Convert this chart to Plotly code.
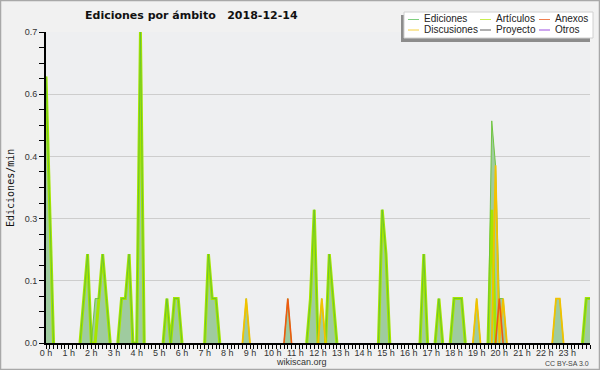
import plotly.graph_objects as go

# ---- data (edits per minute, 10-minute bins, 2018-12-14) ----
hours = list(range(24))
hour_labels = [f"{h} h" for h in hours]
bin_minutes = 10
n_bins = 145
times = [i * bin_minutes / 60 for i in range(n_bins)]

ediciones = [
    0.6, 0.3, 0, 0, 0, 0,        0, 0, 0, 0, 0.1, 0.2,
    0, 0.1, 0.1, 0.2, 0.1, 0,    0, 0, 0.1, 0.1, 0.2, 0,
    0, 0.7, 0, 0, 0, 0,          0, 0, 0.1, 0, 0.1, 0.1,
    0, 0, 0, 0, 0, 0,            0, 0.2, 0.1, 0.1, 0, 0,
    0, 0, 0, 0, 0, 0.1,          0, 0, 0, 0, 0, 0,
    0, 0, 0, 0, 0.1, 0,          0, 0, 0, 0, 0.1, 0.3,
    0, 0.1, 0, 0.2, 0.1, 0,      0, 0, 0, 0, 0, 0,
    0, 0, 0, 0, 0, 0.3,          0.2, 0, 0, 0, 0, 0,
    0, 0, 0, 0, 0.2, 0,          0, 0, 0.1, 0, 0, 0,
    0.1, 0.1, 0.1, 0, 0, 0,      0.1, 0, 0, 0, 0.5, 0.4,
    0.1, 0.1, 0, 0, 0, 0,        0, 0, 0, 0, 0, 0,
    0, 0, 0, 0.1, 0.1, 0,        0, 0, 0, 0, 0, 0.1,
    0.1,
]
articulos = [
    0.6, 0.3, 0, 0, 0, 0,        0, 0, 0, 0, 0.1, 0.2,
    0, 0, 0.1, 0.2, 0.1, 0,      0, 0, 0.1, 0.1, 0.2, 0,
    0, 0.7, 0, 0, 0, 0,          0, 0, 0.1, 0, 0.1, 0.1,
    0, 0, 0, 0, 0, 0,            0, 0.2, 0.1, 0.1, 0, 0,
    0, 0, 0, 0, 0, 0,            0, 0, 0, 0, 0, 0,
    0, 0, 0, 0, 0, 0,            0, 0, 0, 0, 0.1, 0.3,
    0, 0, 0, 0.2, 0.1, 0,        0, 0, 0, 0, 0, 0,
    0, 0, 0, 0, 0, 0.3,          0.2, 0, 0, 0, 0, 0,
    0, 0, 0, 0, 0.2, 0,          0, 0, 0.1, 0, 0, 0,
    0.1, 0.1, 0.1, 0, 0, 0,      0, 0, 0, 0, 0.3, 0,
    0, 0, 0, 0, 0, 0,            0, 0, 0, 0, 0, 0,
    0, 0, 0, 0, 0, 0,            0, 0, 0, 0, 0, 0.1,
    0.1,
]
discusiones = [0] * 53 + [0.1] + [0] * 19 + [0.1] + [0] * 40 + [0.1] + [0] * 4 + \
    [0.4, 0, 0.1] + [0] * 13 + [0.1, 0.1] + [0] * 8
anexos = [0] * 64 + [0.1] + [0] * 55 + [0.1] + [0] * 24
proyecto = [0] * n_bins
otros = [0] * n_bins


def visible_part(values):
    """Hide long runs of zeros (they would sit on top of the x-axis line)."""
    out = []
    for i, v in enumerate(values):
        prev_v = values[i - 1] if i > 0 else 0
        next_v = values[i + 1] if i < len(values) - 1 else 0
        out.append(v if (v or prev_v or next_v) else None)
    return out


# ---- geometry helpers (pixel -> paper) ----
W, H = 600, 370
L, R, T, B = 46, 10, 32, 27
PW, PH = W - L - R, H - T - B


def px(x):
    return (x - L) / PW


def py(y):
    return (H - B - y) / PH


fig = go.Figure()

fig.add_trace(go.Scatter(x=times, y=ediciones, mode="lines", fill="tozeroy",
                         fillcolor="#9fcb9f", line=dict(width=0, color="#9fcb9f"),
                         hoverinfo="skip", showlegend=False))
fig.add_trace(go.Scatter(x=times, y=visible_part(articulos), mode="lines", name="Artículos",
                         line=dict(color="#a6e600", width=3.0), showlegend=False))
fig.add_trace(go.Scatter(x=times, y=visible_part(ediciones), mode="lines", name="Ediciones",
                         line=dict(color="#66c233", width=0.9), showlegend=False))
fig.add_trace(go.Scatter(x=times, y=visible_part(discusiones), mode="lines", name="Discusiones",
                         line=dict(color="#f2c200", width=1.8), showlegend=False))
fig.add_trace(go.Scatter(x=times, y=visible_part(anexos), mode="lines", name="Anexos",
                         line=dict(color="#ee5a10", width=1.6), showlegend=False))
fig.add_trace(go.Scatter(x=times, y=visible_part(proyecto), mode="lines", name="Proyecto",
                         line=dict(color="#606060", width=1), showlegend=False))
fig.add_trace(go.Scatter(x=times, y=visible_part(otros), mode="lines", name="Otros",
                         line=dict(color="#9a4de0", width=1), showlegend=False))

shapes = []
annotations = []

# outer border
shapes.append(dict(type="rect", xref="paper", yref="paper",
                   x0=px(0.5), x1=px(599.5), y0=py(369.5), y1=py(0.5),
                   line=dict(color="#a8a8a8", width=1.5), layer="below"))

# legend box with shadow
shapes.append(dict(type="rect", xref="paper", yref="paper",
                   x0=px(401), x1=px(590), y0=py(42), y1=py(15),
                   fillcolor="#8c8c8c", line=dict(width=0), layer="above"))
shapes.append(dict(type="rect", xref="paper", yref="paper",
                   x0=px(404), x1=px(593), y0=py(38), y1=py(12),
                   fillcolor="#ffffff", line=dict(color="#d0d0d0", width=1), layer="above"))

legend_items = [
    ("Ediciones", "#7fcf7f", 408, 19.5),
    ("Artículos", "#c8ee50", 480, 19.5),
    ("Anexos", "#f07f50", 539, 19.5),
    ("Discusiones", "#f5d040", 408, 30),
    ("Proyecto", "#606060", 480, 30),
    ("Otros", "#9d4fe0", 539, 30),
]
for name, col, x0, yy in legend_items:
    shapes.append(dict(type="line", xref="paper", yref="paper",
                       x0=px(x0), x1=px(x0 + 11), y0=py(yy), y1=py(yy),
                       line=dict(color=col, width=1), layer="above"))
    annotations.append(dict(text=name, xref="paper", yref="paper",
                            x=px(x0 + 15), y=py(yy - 0.5), xanchor="left", yanchor="middle",
                            showarrow=False, borderpad=0,
                            font=dict(family="Liberation Sans, Arial", size=10, color="#222")))

# axis title, footer texts
annotations.append(dict(text="Ediciones/min", xref="paper", yref="paper",
                        x=px(10), y=py(188), textangle=-90, showarrow=False,
                        xanchor="center", yanchor="middle",
                        font=dict(family="DejaVu Sans Mono", size=10, color="#111")))
annotations.append(dict(text="wikiscan.org", xref="paper", yref="paper",
                        x=px(301), y=py(362), showarrow=False,
                        xanchor="center", yanchor="middle", borderpad=0,
                        font=dict(family="Liberation Sans, Arial", size=9, color="#333")))
annotations.append(dict(text="CC BY-SA 3.0", xref="paper", yref="paper",
                        x=px(590), y=py(363), showarrow=False,
                        xanchor="right", yanchor="middle", borderpad=0,
                        font=dict(family="Liberation Sans, Arial", size=7, color="#444")))

fig.update_layout(
    width=W, height=H,
    margin=dict(l=L, r=R, t=T, b=B, autoexpand=False),
    paper_bgcolor="#f1f1f1",
    plot_bgcolor="#eeeff1",
    showlegend=False,
    title=dict(text="Ediciones por ámbito   2018-12-14", x=85 / W, xref="container",
               xanchor="left", y=1 - 15 / H, yref="container", yanchor="middle",
               font=dict(family="DejaVu Sans", size=11, color="#111", weight="bold")),
    shapes=shapes,
    annotations=annotations,
    xaxis=dict(range=[0, 24], tickvals=hours, ticktext=hour_labels,
               showgrid=False, zeroline=False, showline=True, linecolor="black",
               linewidth=2, ticks="outside", ticklen=4, tickwidth=1, tickcolor="black",
               minor=dict(dtick=1 / 6, ticklen=4, tickwidth=1, tickcolor="black",
                          ticks="outside", showgrid=False),
               ticklabelstandoff=-4,
               tickfont=dict(family="Liberation Sans, Arial", size=9, color="#333"),
               fixedrange=True),
    yaxis=dict(range=[0, 0.7], tick0=0, dtick=0.14, tickformat=".1f",
               showgrid=True, gridcolor="#cdcdcd", gridwidth=1, zeroline=False,
               showline=True, linecolor="black", linewidth=2,
               ticks="outside", ticklen=5, tickwidth=1, tickcolor="black",
               minor=dict(dtick=0.035, ticklen=5, tickwidth=1, tickcolor="black",
                          ticks="outside", showgrid=False),
               tickfont=dict(family="Liberation Sans, Arial", size=9, color="#333"),
               fixedrange=True),
)

fig.write_html("out.html", config={"displayModeBar": False},
               post_script="document.body.style.margin='0';")
